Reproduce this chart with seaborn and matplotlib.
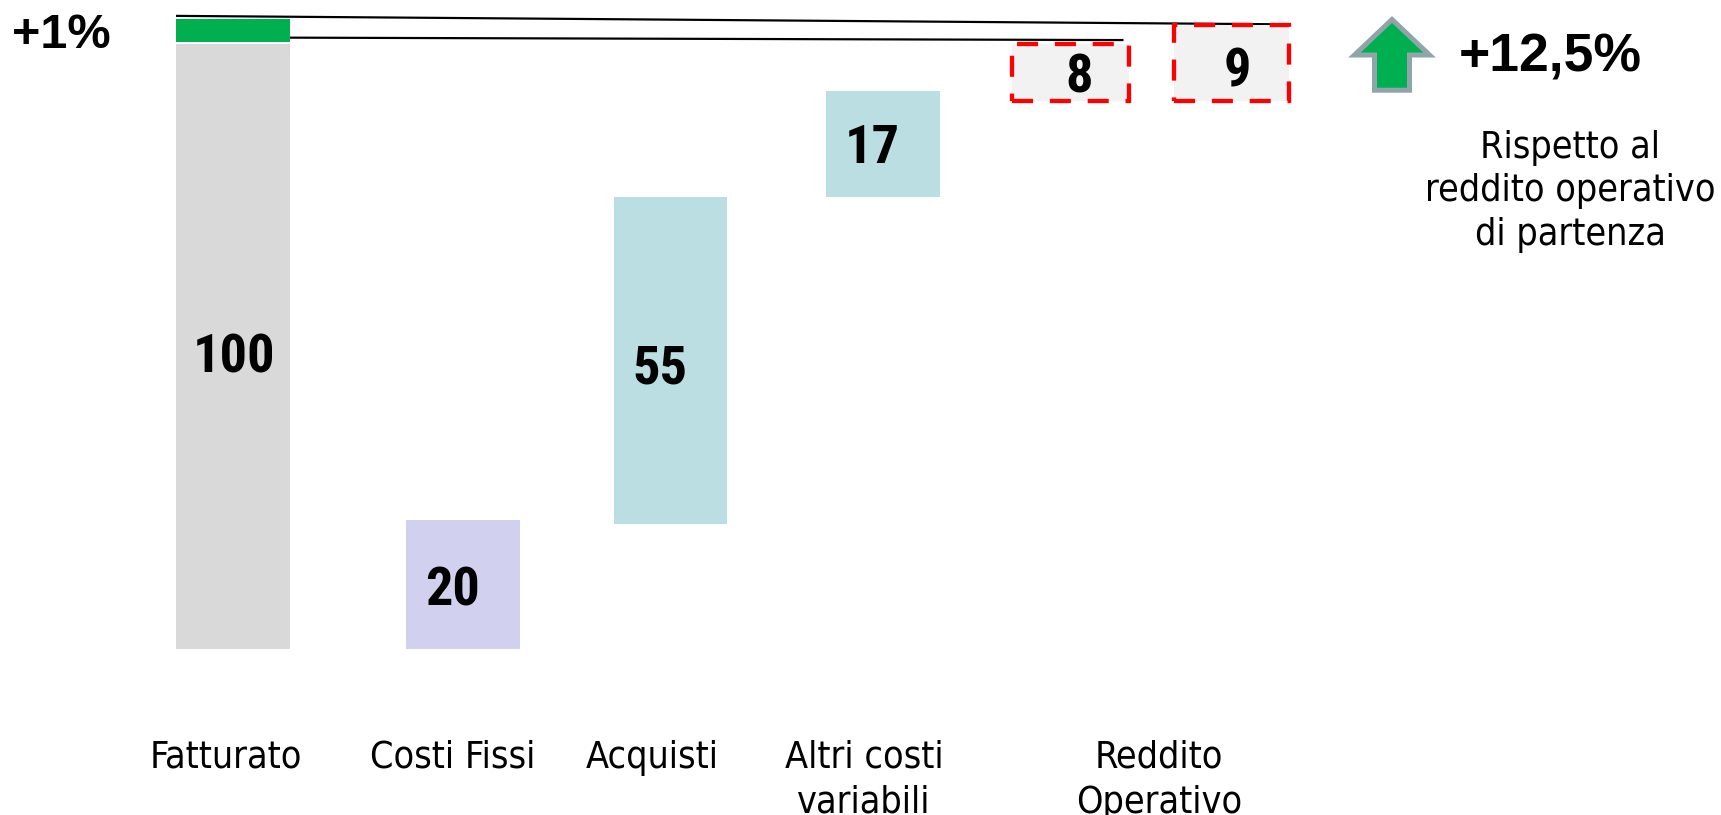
import numpy as np
import pandas as pd
import matplotlib
matplotlib.use("Agg")
import matplotlib.pyplot as plt
import matplotlib.transforms as mtransforms
import seaborn as sns
from matplotlib import font_manager as fm
from matplotlib.font_manager import FontProperties
from matplotlib.patches import Polygon

# ---------------- data ----------------
categories = ["Fatturato", "Costi Fissi", "Acquisti", "Altri costi\nvariabili", "Reddito\nOperativo"]
segment_labels = ["100", "20", "55", "17", "8", "9"]
segment_bottom = [0.0, 0.0, 20.65, 74.7, 90.6, 90.6]
segment_top = [100.0, 21.2, 74.6, 92.2, 99.9, 103.1]
increase_bottom = [100.3]
increase_top = [104.1]
increase_text = "+1%"
change_text = "+12,5%"
note_text = "Rispetto al\nreddito operativo\ndi partenza"
connector_upper = [104.6, 103.2]
connector_lower = [101.0, 100.6]

# ---------------- layout / style ----------------
W, H = 1721, 815
DPI = 100
PT = 72.0 / DPI            # points per pixel
base_px = 648.5            # pixel row (from top) of the zero line
px_per_unit = 6.048
bar_center = [233, 463, 670, 883, 1070, 1231]
bar_width = [114, 114, 113, 114, 117, 115]
bar_face = ["#D9D9D9", "#D1D1EF", "#BADEE2", "#BADEE2", "#F2F2F2", "#F2F2F2"]
dashed = [False, False, False, False, True, True]
label_dx = [1.5, -10.5, -10, -10.5, 8.7, 6.5]   # px
label_dy = [7, 1.6, 3.8, 0, 0.6, 4.7]           # px downward from segment middle
digit_h = 39                                     # px
tick_pos = [226, 453, 652, 864, 1159]

sns.set_theme(style="white")

ttf = fm.fontManager.ttflist
names = {f.name for f in ttf}
COND = ("condensed", "extra-condensed", "semi-condensed", "ultra-condensed")


def cond_props(size, weight="normal"):
    if "DejaVu Sans Condensed" in names:
        return FontProperties(family="DejaVu Sans Condensed", weight=weight, size=size)
    if any(f.name == "DejaVu Sans" and str(f.stretch) in COND for f in ttf):
        return FontProperties(family="DejaVu Sans", stretch="condensed", weight=weight, size=size)
    if "Liberation Sans Narrow" in names:
        return FontProperties(family="Liberation Sans Narrow", weight=weight, size=size * 1.12)
    return FontProperties(family="DejaVu Sans", weight=weight, size=size * 0.9)


def narrow_bold(size):
    for fam in ["Liberation Sans Narrow", "Arial Narrow", "Roboto Condensed",
                "Open Sans Condensed", "Noto Sans Condensed", "Open Sans SemiCondensed"]:
        if fam in names:
            return FontProperties(family=fam, weight="bold", size=size)
    for fam in ["Roboto", "Noto Sans", "Open Sans", "Lato", "Inter"]:
        if any(f.name == fam and str(f.stretch) in COND and f.weight in ("bold", 700, 600, "semibold")
               for f in ttf):
            return FontProperties(family=fam, stretch="condensed", weight="bold", size=size)
    return cond_props(size * 0.84, weight="bold")


fp_label = cond_props(27)
fp_value = narrow_bold(39.2)
fp_big = FontProperties(family="Liberation Sans", weight="bold", size=35)
fp_change = FontProperties(family="Liberation Sans", weight="bold", size=38.5)

fig = plt.figure(figsize=(W / DPI, H / DPI), dpi=DPI, facecolor="white")
ax = fig.add_axes([0, (H - base_px) / H, 1, base_px / H])

# ---- main floating bars (seaborn) ----
heights = np.array(segment_top) - np.array(segment_bottom)
df = pd.DataFrame({"pos": bar_center, "height": heights})
min_gap = float(np.min(np.diff(sorted(bar_center))))
n0 = len(ax.patches)
sns.barplot(data=df, x="pos", y="height", native_scale=True, orient="x",
            width=np.mean(bar_width) / min_gap, errorbar=None, color=bar_face[0],
            saturation=1, linewidth=0, ax=ax, zorder=2)
main_patches = ax.patches[n0:]
for i, p in enumerate(main_patches):
    p.set_x(bar_center[i] - bar_width[i] / 2)
    p.set_width(bar_width[i])
    p.set_y(segment_bottom[i])
    p.set_height(heights[i])
    p.set_facecolor(bar_face[i])
    if dashed[i]:
        p.set_edgecolor("#FF0000")
        p.set_linewidth(4.3 * PT)
        p.set_linestyle((0, (4.9, 3.9)))
    else:
        p.set_edgecolor("none")
        p.set_linewidth(0)

# ---- increase segment on top of Fatturato ----
inc_h = np.array(increase_top) - np.array(increase_bottom)
n1 = len(ax.patches)
sns.barplot(x=[bar_center[0]], y=inc_h, native_scale=True, orient="x",
            width=bar_width[0], errorbar=None, color="#00B050", saturation=1,
            linewidth=0, ax=ax, zorder=2)
for p in ax.patches[n1:]:
    p.set_x(bar_center[0] - bar_width[0] / 2)
    p.set_width(bar_width[0])
    p.set_y(increase_bottom[0])
    p.set_height(inc_h[0])

# ---- connector lines ----
ax.plot([bar_center[0] - bar_width[0] / 2, bar_center[5] + bar_width[5] / 2],
        connector_upper, color="black", lw=2.2 * PT, zorder=1, solid_capstyle="butt")
ax.plot([bar_center[0] + bar_width[0] / 2, bar_center[4] + bar_width[4] / 2 - 5],
        connector_lower, color="black", lw=2.2 * PT, zorder=1, solid_capstyle="butt")

# ---- value labels ----
for i, lab in enumerate(segment_labels):
    mid = (segment_bottom[i] + segment_top[i]) / 2
    tr = mtransforms.offset_copy(ax.transData, fig=fig, x=label_dx[i],
                                 y=-(label_dy[i] + digit_h / 2), units="dots")
    ax.text(bar_center[i], mid, lab, transform=tr, ha="center", va="baseline",
            fontproperties=fp_value, color="black", zorder=5)

ax.set_xlim(0, W)
ax.set_ylim(0, base_px / px_per_unit)
ax.set_xticks(tick_pos)
ax.set_xticklabels(categories, fontproperties=fp_label, linespacing=1.33,
                   multialignment="center", color="black")
ax.tick_params(axis="x", length=0, pad=91 * PT)
ax.set_yticks([])
ax.set_xlabel("")
ax.set_ylabel("")
for s in ax.spines.values():
    s.set_visible(False)
ax.patch.set_alpha(0)

# ---- overlay for annotations (pixel coordinates) ----
ov = fig.add_axes([0, 0, 1, 1], zorder=5)
ov.set_xlim(0, W)
ov.set_ylim(H, 0)
ov.axis("off")
ov.patch.set_alpha(0)

ov.text(12, 48.3, increase_text, fontproperties=fp_big, ha="left", va="baseline", color="black")
ov.text(1459, 72, change_text, fontproperties=fp_change, ha="left", va="baseline", color="black")
ov.text(1570, 245, note_text, fontproperties=fp_label, ha="center", va="baseline",
        multialignment="center", linespacing=1.27, color="black")

arrow = Polygon([(1392, 19.5), (1429.5, 55), (1409.5, 55), (1409.5, 90.2),
                 (1374.5, 90.2), (1374.5, 55), (1354.5, 55)], closed=True,
                facecolor="#00B050", edgecolor="#8FA5A9", linewidth=5 * PT, joinstyle="miter")
ov.add_patch(arrow)

fig.savefig("out.png", dpi=DPI, facecolor="white")
